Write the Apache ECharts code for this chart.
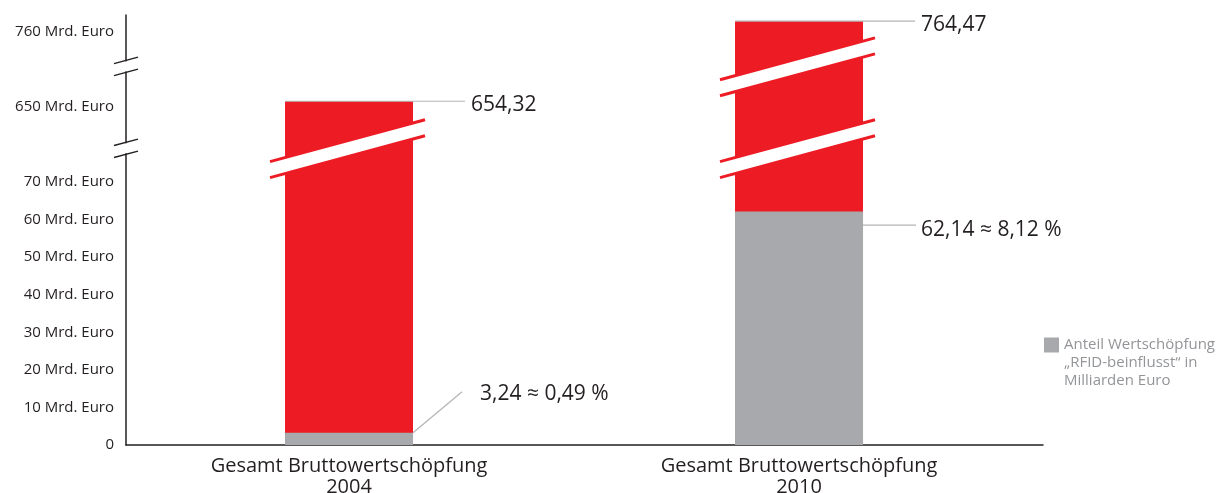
<!DOCTYPE html>
<html><head><meta charset="utf-8">
<script src="https://cdn.jsdelivr.net/npm/echarts@6/dist/echarts.min.js"></script>
<style>html,body{margin:0;padding:0;background:#fff}#chart{width:1218px;height:493px}</style>
</head><body><div id="chart"></div>
<script>
// ---------- data ----------
const categories = ['Gesamt Bruttowertschöpfung\n2004', 'Gesamt Bruttowertschöpfung\n2010'];
const totalValues = [654.32, 764.47];
const rfidValues = [3.24, 62.14];
const rfidSharePct = [0.49, 8.12];
const yTickValues = [0, 10, 20, 30, 40, 50, 60, 70, 650, 760];
const totalName = 'Gesamt Bruttowertschöpfung';
const rfidName = 'Anteil Wertschöpfung\n„RFID-beinflusst“ in\nMilliarden Euro';

// ---------- broken axis (real value -> display scale) ----------
const axisSegments = [
  { from: -1,  to: 75,   anchor: 0,   at: 0,   k: 1 },
  { from: 75,  to: 705,  anchor: 650, at: 90,  k: 0.35 },
  { from: 705, to: 1000, anchor: 760, at: 110, k: 0.64 }
];
const breakDisplay = [79, 100.8];
function toDisplay(v) {
  for (const s of axisSegments) if (v >= s.from && v < s.to) return s.at + (v - s.anchor) * s.k;
  return v;
}
const yMaxReal = 767;
const X_MIN = -0.4956, X_MAX = 1.5422;
const BAR_W = 128;
const RED = '#ed1c24', GRAY = '#a7a9ac', DARK = '#231f20';
const FONT = '"Open Sans", "Noto Sans", sans-serif';
const fmt = v => v.toFixed(2).replace('.', ',');

const chart = echarts.init(document.getElementById('chart'), null, { renderer: 'canvas' });

function annotationItem(params, api) {
  const i = api.value(0);
  const top = api.coord([i, toDisplay(totalValues[i])]);
  const grayTop = api.coord([i, toDisplay(rfidValues[i])]);
  const base = api.coord([i, 0]);
  const cx = top[0];
  const children = [];
  const lineStyle = { stroke: '#b2b4b6', lineWidth: 1.2 };
  const textStyle = (x, y, t) => ({ type: 'text', style: { x, y, text: t, fill: DARK, font: '21px ' + FONT, verticalAlign: 'middle', align: 'left' } });
  children.push({ type: 'line', shape: { x1: cx - BAR_W / 2, y1: top[1], x2: cx + 116, y2: top[1] }, style: lineStyle });
  children.push(textStyle(cx + 122, top[1] + 3.5, fmt(totalValues[i])));
  const shareText = fmt(rfidValues[i]) + ' ≈ ' + fmt(rfidSharePct[i]) + ' %';
  if (base[1] - grayTop[1] > 40) {
    const y = grayTop[1] + 13.5;
    children.push({ type: 'line', shape: { x1: cx + BAR_W / 2, y1: y, x2: cx + 117, y2: y }, style: lineStyle });
    children.push(textStyle(cx + 122, y + 4.5, shareText));
  } else {
    children.push({ type: 'line', shape: { x1: cx + BAR_W / 2, y1: grayTop[1], x2: cx + 113, y2: grayTop[1] - 41 }, style: lineStyle });
    children.push(textStyle(cx + 131, grayTop[1] - 39, shareText));
  }
  return { type: 'group', children };
}

function breakItem(params, api) {
  const j = api.value(0);
  const d = breakDisplay[j];
  const children = [];
  const ax = api.coord([X_MIN, d]);
  children.push({ type: 'rect', shape: { x: ax[0] - 3, y: ax[1] - 5, width: 6, height: 10 }, style: { fill: '#fff' } });
  [-6, 6].forEach(o => children.push({ type: 'line', shape: { x1: ax[0] - 12, y1: ax[1] + 3.2 + o, x2: ax[0] + 12, y2: ax[1] - 3.2 + o }, style: { stroke: DARK, lineWidth: 1.4 } }));
  totalValues.forEach((t, i) => {
    if (toDisplay(t) <= d) return;
    const c = api.coord([i, d]);
    const cx = c[0], cy = c[1], sl = 0.27;
    const yAt = (x, o) => cy + o - (x - cx) * sl;
    const xl = cx - BAR_W / 2 - 1, xr = cx + BAR_W / 2 + 1;
    children.push({ type: 'polygon', shape: { points: [[xl, yAt(xl, -8)], [xr, yAt(xr, -8)], [xr, yAt(xr, 8)], [xl, yAt(xl, 8)]] }, style: { fill: '#fff' } });
    const x1 = cx - BAR_W / 2 - 15, x2 = cx + BAR_W / 2 + 12;
    [-8, 8].forEach(o => children.push({ type: 'line', shape: { x1, y1: yAt(x1, o), x2, y2: yAt(x2, o) }, style: { stroke: RED, lineWidth: 3 } }));
  });
  return { type: 'group', children };
}

const option = {
  animation: false,
  backgroundColor: '#fff',
  grid: { left: 126, right: 175, top: 15, bottom: 48, containLabel: false, outerBoundsMode: 'none' },
  legend: {
    data: [rfidName], left: 1044, top: 300, padding: 0, selectedMode: false,
    icon: 'rect', itemWidth: 15, itemHeight: 15,
    formatter: name => '\n\n' + name,
    textStyle: { fontFamily: FONT, fontSize: 15, lineHeight: 18, color: '#939598' }
  },
  xAxis: {
    type: 'value', min: X_MIN, max: X_MAX,
    axisLine: { show: true, onZero: false, lineStyle: { color: DARK, width: 1.5 } },
    axisTick: { show: false }, splitLine: { show: false },
    axisLabel: {
      customValues: categories.map((c, i) => i),
      formatter: v => categories[Math.round(v)],
      fontFamily: FONT, fontSize: 20, lineHeight: 21, color: DARK, margin: 11
    }
  },
  yAxis: {
    type: 'value', min: 0, max: toDisplay(yMaxReal),
    axisLine: { show: true, onZero: false, lineStyle: { color: DARK, width: 1.5 } },
    axisTick: { show: false }, splitLine: { show: false },
    axisLabel: {
      customValues: yTickValues.map(toDisplay),
      formatter: d => {
        let best = yTickValues[0];
        yTickValues.forEach(v => { if (Math.abs(toDisplay(v) - d) < Math.abs(toDisplay(best) - d)) best = v; });
        return best === 0 ? '0' : best + ' Mrd. Euro';
      },
      fontFamily: FONT, fontSize: 15, color: DARK, margin: 12, padding: [4, 0, 0, 0]
    }
  },
  series: [
    { name: totalName, type: 'bar', barWidth: BAR_W, barGap: '-100%', itemStyle: { color: RED },
      data: totalValues.map((v, i) => [i, toDisplay(v)]) },
    { name: rfidName, type: 'bar', barWidth: BAR_W, barGap: '-100%', itemStyle: { color: GRAY },
      data: rfidValues.map((v, i) => [i, toDisplay(v)]) },
    { name: 'breaks', type: 'custom', clip: false, silent: true, z: 5,
      data: breakDisplay.map((d, j) => [j]), renderItem: breakItem },
    { name: 'labels', type: 'custom', clip: false, silent: true, z: 6,
      data: totalValues.map((v, i) => [i]), renderItem: annotationItem }
  ]
};
chart.setOption(option);
</script></body></html>
